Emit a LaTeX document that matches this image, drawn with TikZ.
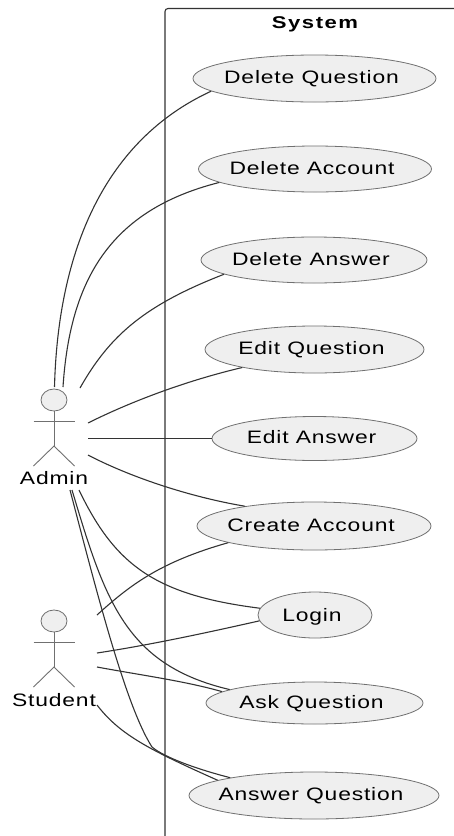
\documentclass[tikz,border=0pt]{standalone}
\usepackage{fontspec}
\setmainfont[FakeStretch=1.27,LetterSpace=4.6]{Liberation Sans}
\newfontfamily\sysfont[FakeStretch=1.3,LetterSpace=9,BoldFont={Liberation Sans Bold}]{Liberation Sans}
\usetikzlibrary{shapes.geometric}
\definecolor{ucfill}{HTML}{EFEFEF}
\definecolor{ucline}{HTML}{707070}
\definecolor{conn}{HTML}{333333}
\newcommand{\uctext}[2][-5pt]{\smash{\raisebox{#1}{\makebox[0pt][c]{#2\kern6pt}}}}
\tikzset{
  uc/.style={ellipse,draw=ucline,fill=ucfill,line width=0.8pt,inner sep=0pt,font=\fontsize{18}{20}\selectfont,text=black},
  head/.style={ellipse,draw=ucline,fill=ucfill,line width=0.8pt,inner sep=0pt,minimum width=26pt,minimum height=22pt},
  stick/.style={draw=ucline,line width=0.9pt},
  link/.style={draw=conn,line width=1.1pt},
  actorname/.style={inner sep=0pt,font=\fontsize{18}{20}\selectfont,text=black}
}
\begin{document}
\begin{tikzpicture}[x=1pt,y=-1pt]
\useasboundingbox (0,0) rectangle (454,836);
\fill[white] (0,0) rectangle (454,836);
% system frame
\draw[draw=conn,line width=1.1pt,rounded corners=3pt] (165,836) -- (165,8.5) -- (454,8.5);
\node[inner sep=0pt,font=\sysfont\fontsize{17}{20}\selectfont\bfseries] (sys) at (315,24) {System};
% use cases
\node[uc,minimum width=243pt,minimum height=47pt] (dq) at (314.5,78.5) {\uctext{Delete Question}};
\node[uc,minimum width=233pt,minimum height=46pt] (dc) at (315,169) {\uctext{Delete Account}};
\node[uc,minimum width=226pt,minimum height=46pt] (da) at (314,260) {\uctext{Delete Answer}};
\node[uc,minimum width=219pt,minimum height=47pt] (eq) at (314.5,349.5) {\uctext{Edit Question}};
\node[uc,minimum width=205pt,minimum height=44pt] (ea) at (314.5,438.5) {\uctext{Edit Answer}};
\node[uc,minimum width=234pt,minimum height=48pt] (ca) at (314,526) {\uctext{Create Account}};
\node[uc,minimum width=114pt,minimum height=46pt] (lg) at (315,615) {\uctext[-6pt]{Login}};
\node[uc,minimum width=217pt,minimum height=42pt] (aq) at (314.5,703) {\uctext{Ask Question}};
\node[uc,minimum width=250pt,minimum height=47pt] (nq) at (314,795.5) {\uctext{Answer Question}};
% actors
\node[head] (ah) at (54,400) {};
\draw[stick] (33.5,421) -- (74.5,421);
\coordinate (ahip) at (54,446);
\draw[stick] (ah) -- (ahip);
\draw[stick] (33.5,466) -- (ahip) -- (74.5,466);
\node[actorname] (an) at (54,478) {Admin};
\node[head] (sh) at (54,621) {};
\draw[stick] (33.5,642) -- (74.5,642);
\coordinate (ship) at (54,667);
\draw[stick] (sh) -- (ship);
\draw[stick] (33.5,687) -- (ship) -- (74.5,687);
\node[actorname] (sn) at (54,700) {Student};
% connector free ends
\coordinate (a1) at (54.5,387);
\coordinate (a2) at (63,387);
\coordinate (a3) at (80,388);
\coordinate (a4) at (88,423);
\coordinate (a5) at (88,438.5);
\coordinate (a6) at (88,455);
\coordinate (a7) at (79,490);
\coordinate (a8) at (72,490);
\coordinate (a9) at (70,490);
\coordinate (s1) at (97,615);
\coordinate (s2) at (97,653);
\coordinate (s3) at (97,667);
\coordinate (s4) at (97,705);
% connectors
\path[link] (a1) .. controls (58,250) and (105,140) .. (dq.187.8);
\path[link] (a2) .. controls (70,280) and (110,210) .. (dc.188.5);
\path[link] (a3) .. controls (110,335) and (145,305) .. (da.189.9);
\path[link] (a4) .. controls (130,402) and (185,381) .. (eq.194.8);
\path[link] (a5) -- (ea.180);
\path[link] (a6) .. controls (130,477) and (190,497) .. (ca.164.3);
\path[link] (a7) .. controls (115,565) and (155,595) .. (lg.173.8);
\path[link] (a8) .. controls (105,600) and (125,665) .. (aq.171);
\path[link] (a9) .. controls (95,585) and (125,705) .. (152,747) .. controls (165,758) and (200,770) .. (nq.168.8);
\path[link] (s1) .. controls (130,585) and (160,562) .. (ca.191.8);
\path[link] (s2) .. controls (150,645) and (210,632) .. (lg.186);
\path[link] (s3) .. controls (140,675) and (185,681) .. (aq.173.1);
\path[link] (s4) .. controls (120,735) and (150,750) .. (nq.171.8);
\end{tikzpicture}
\end{document}
